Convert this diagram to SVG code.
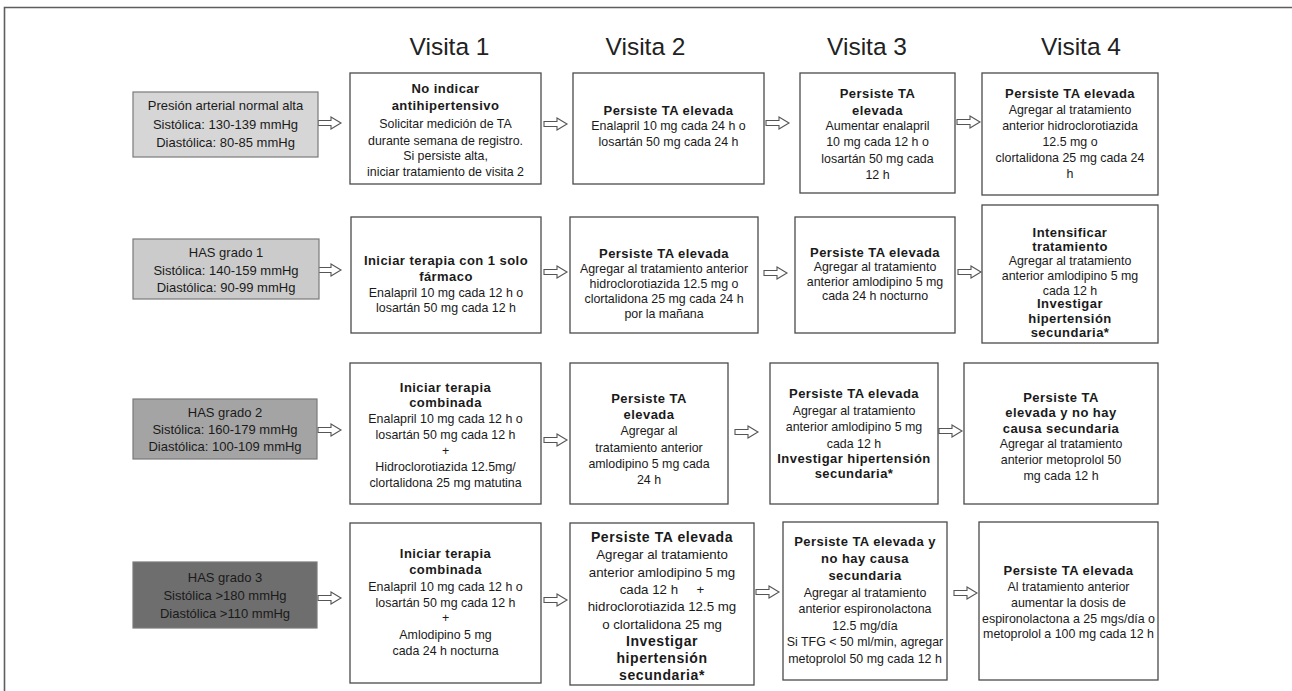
<svg xmlns="http://www.w3.org/2000/svg" xmlns:xlink="http://www.w3.org/1999/xlink" width="1292" height="691" viewBox="0 0 1292 691">
<defs>
<style>
text { font-family: "Liberation Sans", Arial, sans-serif; fill: #1a1a1a; text-anchor: middle; }
.h { font-size: 24.5px; fill: #222; }
.l { font-size: 13px; }
.r { font-size: 12.4px; }
.b { font-size: 13px; font-weight: bold; letter-spacing: 0.45px; }
.r2 { font-size: 13.3px; }
.b2 { font-size: 14px; font-weight: bold; letter-spacing: 0.6px; }
.box { fill: #fff; stroke: #4a4a4a; stroke-width: 1.3; }
.lb { stroke: #7a7a7a; stroke-width: 1.2; }
.g1 { fill: #d6d6d6; }
.g2 { fill: #cbcbcb; }
.g3 { fill: #a4a4a4; }
.g4 { fill: #6e6e6e; }
.arr { fill: #fff; stroke: #555; stroke-width: 1.1; }
.frame { fill: none; stroke: #5e5e5e; stroke-width: 1.6; }
</style>
<path id="ar" d="M0,-2.5 H13 V-6 L23,0 L13,6 V2.5 H0 Z"/>
</defs>
<rect width="1292" height="691" fill="#fff"/>
<path class="frame" d="M4.5,691 V7.5 H1292"/>

<g id="headers">
<text class="h" x="449.5" y="55">Visita 1</text>
<text class="h" x="645.5" y="55">Visita 2</text>
<text class="h" x="867" y="55">Visita 3</text>
<text class="h" x="1081" y="55">Visita 4</text>
</g>

<g id="connectors">
<use xlink:href="#ar" class="arr" x="318" y="123"/>
<use xlink:href="#ar" class="arr" x="544" y="124"/>
<use xlink:href="#ar" class="arr" x="766" y="123"/>
<use xlink:href="#ar" class="arr" x="957" y="122"/>
<use xlink:href="#ar" class="arr" x="318" y="270"/>
<use xlink:href="#ar" class="arr" x="544" y="272"/>
<use xlink:href="#ar" class="arr" x="764" y="273"/>
<use xlink:href="#ar" class="arr" x="958" y="272"/>
<use xlink:href="#ar" class="arr" x="318" y="430"/>
<use xlink:href="#ar" class="arr" x="544" y="440"/>
<use xlink:href="#ar" class="arr" x="735" y="432"/>
<use xlink:href="#ar" class="arr" x="939" y="431"/>
<use xlink:href="#ar" class="arr" x="318" y="598"/>
<use xlink:href="#ar" class="arr" x="544" y="600"/>
<use xlink:href="#ar" class="arr" x="756" y="592"/>
<use xlink:href="#ar" class="arr" x="954" y="593"/>
</g>

<!-- Row 1 -->
<g id="r1-label">
<rect class="lb g1" x="133" y="92" width="185" height="65"/>
<text class="l"><tspan x="225.5" y="110">Presión arterial normal alta</tspan><tspan x="225.5" y="128.5">Sistólica: 130-139 mmHg</tspan><tspan x="225.5" y="147">Diastólica: 80-85 mmHg</tspan></text>
</g>
<g id="r1-v1">
<rect class="box" x="350" y="73" width="191" height="111"/>
<text class="b"><tspan x="445.5" y="93">No indicar</tspan><tspan x="445.5" y="110">antihipertensivo</tspan></text>
<text class="r"><tspan x="445.5" y="128">Solicitar medición de TA</tspan><tspan x="445.5" y="144.5">durante semana de registro.</tspan><tspan x="445.5" y="160">Si persiste alta,</tspan><tspan x="445.5" y="175.5">iniciar tratamiento de visita 2</tspan></text>
</g>
<g id="r1-v2">
<rect class="box" x="573" y="73" width="191" height="111"/>
<text class="b"><tspan x="668.5" y="114.5">Persiste TA elevada</tspan></text>
<text class="r"><tspan x="668.5" y="130">Enalapril 10 mg cada 24 h o</tspan><tspan x="668.5" y="146">losartán 50 mg cada 24 h</tspan></text>
</g>
<g id="r1-v3">
<rect class="box" x="800" y="73" width="155" height="120"/>
<text class="b"><tspan x="877.5" y="98">Persiste TA</tspan><tspan x="877.5" y="114.5">elevada</tspan></text>
<text class="r"><tspan x="877.5" y="130">Aumentar enalapril</tspan><tspan x="877.5" y="146">10 mg cada 12 h o</tspan><tspan x="877.5" y="162.5">losartán 50 mg cada</tspan><tspan x="877.5" y="178.5">12 h</tspan></text>
</g>
<g id="r1-v4">
<rect class="box" x="982" y="73" width="176" height="122"/>
<text class="b"><tspan x="1070" y="98">Persiste TA elevada</tspan></text>
<text class="r"><tspan x="1070" y="114">Agregar al tratamiento</tspan><tspan x="1070" y="130">anterior hidroclorotiazida</tspan><tspan x="1070" y="146">12.5 mg o</tspan><tspan x="1070" y="162">clortalidona 25 mg cada 24</tspan><tspan x="1070" y="178">h</tspan></text>
</g>

<!-- Row 2 -->
<g id="r2-label">
<rect class="lb g2" x="133" y="239" width="186" height="60"/>
<text class="l"><tspan x="226" y="256.5">HAS grado 1</tspan><tspan x="226" y="274.5">Sistólica: 140-159 mmHg</tspan><tspan x="226" y="292">Diastólica: 90-99 mmHg</tspan></text>
</g>
<g id="r2-v1">
<rect class="box" x="351" y="217" width="190" height="116"/>
<text class="b"><tspan x="446" y="265">Iniciar terapia con 1 solo</tspan><tspan x="446" y="280.5">fármaco</tspan></text>
<text class="r"><tspan x="446" y="296.5">Enalapril 10 mg cada 12 h o</tspan><tspan x="446" y="312">losartán 50 mg cada 12 h</tspan></text>
</g>
<g id="r2-v2">
<rect class="box" x="570" y="217" width="188" height="116"/>
<text class="b"><tspan x="664" y="257.5">Persiste TA elevada</tspan></text>
<text class="r"><tspan x="664" y="272.5">Agregar al tratamiento anterior</tspan><tspan x="664" y="287.5">hidroclorotiazida 12.5 mg o</tspan><tspan x="664" y="302.5">clortalidona 25 mg cada 24 h</tspan><tspan x="664" y="317.5">por la mañana</tspan></text>
</g>
<g id="r2-v3">
<rect class="box" x="795" y="217" width="160" height="116"/>
<text class="b"><tspan x="875" y="256.5">Persiste TA elevada</tspan></text>
<text class="r"><tspan x="875" y="271">Agregar al tratamiento</tspan><tspan x="875" y="285.5">anterior amlodipino 5 mg</tspan><tspan x="875" y="300">cada 24 h nocturno</tspan></text>
</g>
<g id="r2-v4">
<rect class="box" x="982" y="205" width="176" height="138"/>
<text class="b"><tspan x="1070" y="237">Intensificar</tspan><tspan x="1070" y="251">tratamiento</tspan></text>
<text class="r"><tspan x="1070" y="265">Agregar al tratamiento</tspan><tspan x="1070" y="280">anterior amlodipino 5 mg</tspan><tspan x="1070" y="294.5">cada 12 h</tspan></text>
<text class="b"><tspan x="1070" y="308">Investigar</tspan><tspan x="1070" y="322.5">hipertensión</tspan><tspan x="1070" y="336.5">secundaria*</tspan></text>
</g>

<!-- Row 3 -->
<g id="r3-label">
<rect class="lb g3" x="133" y="399" width="184" height="60"/>
<text class="l"><tspan x="225" y="416.5">HAS grado 2</tspan><tspan x="225" y="433.5">Sistólica: 160-179 mmHg</tspan><tspan x="225" y="451">Diastólica: 100-109 mmHg</tspan></text>
</g>
<g id="r3-v1">
<rect class="box" x="350" y="363" width="191" height="141"/>
<text class="b"><tspan x="445.5" y="391.5">Iniciar terapia</tspan><tspan x="445.5" y="407">combinada</tspan></text>
<text class="r"><tspan x="445.5" y="423">Enalapril 10 mg cada 12 h o</tspan><tspan x="445.5" y="439">losartán 50 mg cada 12 h</tspan><tspan x="445.5" y="455">+</tspan><tspan x="445.5" y="471">Hidroclorotiazida 12.5mg/</tspan><tspan x="445.5" y="487">clortalidona 25 mg matutina</tspan></text>
</g>
<g id="r3-v2">
<rect class="box" x="570" y="363" width="158" height="141"/>
<text class="b"><tspan x="649" y="402.5">Persiste TA</tspan><tspan x="649" y="419">elevada</tspan></text>
<text class="r"><tspan x="649" y="435">Agregar al</tspan><tspan x="649" y="451.5">tratamiento anterior</tspan><tspan x="649" y="468">amlodipino 5 mg cada</tspan><tspan x="649" y="484">24 h</tspan></text>
</g>
<g id="r3-v3">
<rect class="box" x="770" y="363" width="168" height="141"/>
<text class="b"><tspan x="854" y="397.5">Persiste TA elevada</tspan></text>
<text class="r"><tspan x="854" y="414.5">Agregar al tratamiento</tspan><tspan x="854" y="431">anterior amlodipino 5 mg</tspan><tspan x="854" y="447.5">cada 12 h</tspan></text>
<text class="b"><tspan x="854" y="462.5">Investigar hipertensión</tspan><tspan x="854" y="477.5">secundaria*</tspan></text>
</g>
<g id="r3-v4">
<rect class="box" x="964" y="363" width="194" height="141"/>
<text class="b"><tspan x="1061" y="401.5">Persiste TA</tspan><tspan x="1061" y="417">elevada y no hay</tspan><tspan x="1061" y="432.5">causa secundaria</tspan></text>
<text class="r"><tspan x="1061" y="448">Agregar al tratamiento</tspan><tspan x="1061" y="464">anterior metoprolol 50</tspan><tspan x="1061" y="480">mg cada 12 h</tspan></text>
</g>

<!-- Row 4 -->
<g id="r4-label">
<rect class="lb g4" x="133" y="562" width="184" height="66"/>
<text class="l"><tspan x="225" y="581.5">HAS grado 3</tspan><tspan x="225" y="599.5">Sistólica &gt;180 mmHg</tspan><tspan x="225" y="617.5">Diastólica &gt;110 mmHg</tspan></text>
</g>
<g id="r4-v1">
<rect class="box" x="350" y="523" width="191" height="160"/>
<text class="b"><tspan x="445.5" y="557.5">Iniciar terapia</tspan><tspan x="445.5" y="574">combinada</tspan></text>
<text class="r"><tspan x="445.5" y="590.5">Enalapril 10 mg cada 12 h o</tspan><tspan x="445.5" y="606.5">losartán 50 mg cada 12 h</tspan><tspan x="445.5" y="622">+</tspan><tspan x="445.5" y="638.5">Amlodipino 5 mg</tspan><tspan x="445.5" y="654.5">cada 24 h nocturna</tspan></text>
</g>
<g id="r4-v2">
<rect class="box" x="570" y="523" width="184" height="162"/>
<text class="b2"><tspan x="662" y="541.5">Persiste TA elevada</tspan></text>
<text class="r2"><tspan x="662" y="559">Agregar al tratamiento</tspan><tspan x="662" y="576.5">anterior amlodipino 5 mg</tspan><tspan x="662" y="594">cada 12 h&#160;&#160;&#160;&#160;&#160;+</tspan><tspan x="662" y="611">hidroclorotiazida 12.5 mg</tspan><tspan x="662" y="628.5">o clortalidona 25 mg</tspan></text>
<text class="b2"><tspan x="662" y="645.5">Investigar</tspan><tspan x="662" y="663">hipertensión</tspan><tspan x="662" y="680">secundaria*</tspan></text>
</g>
<g id="r4-v3">
<rect class="box" x="783" y="522" width="164" height="158"/>
<text class="b"><tspan x="865" y="546">Persiste TA elevada y</tspan><tspan x="865" y="563">no hay causa</tspan><tspan x="865" y="580">secundaria</tspan></text>
<text class="r"><tspan x="865" y="597">Agregar al tratamiento</tspan><tspan x="865" y="613">anterior espironolactona</tspan><tspan x="865" y="629.5">12.5 mg/día</tspan><tspan x="865" y="646">Si TFG &lt; 50 ml/min, agregar</tspan><tspan x="865" y="662.5">metoprolol 50 mg cada 12 h</tspan></text>
</g>
<g id="r4-v4">
<rect class="box" x="979" y="522" width="179" height="158"/>
<text class="b"><tspan x="1068.5" y="574.5">Persiste TA elevada</tspan></text>
<text class="r"><tspan x="1068.5" y="591">Al tratamiento anterior</tspan><tspan x="1068.5" y="606.5">aumentar la dosis de</tspan><tspan x="1068.5" y="622.5">espironolactona a 25 mgs/día o</tspan><tspan x="1068.5" y="638">metoprolol a 100 mg cada 12 h</tspan></text>
</g>
</svg>
